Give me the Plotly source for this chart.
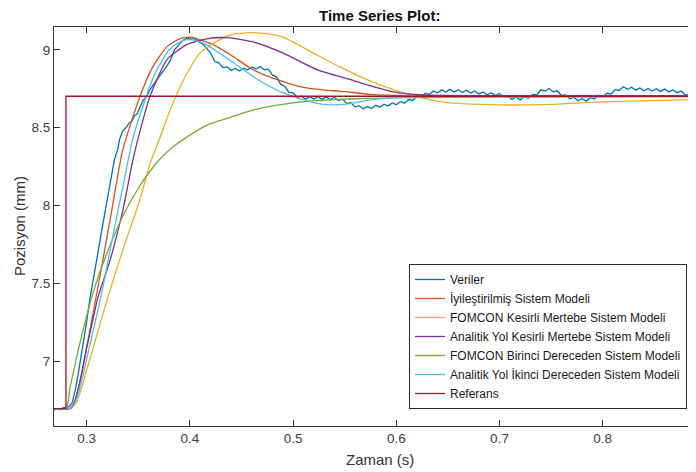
import plotly.graph_objects as go

# ---------------- data ----------------
veriler_t = [0.268, 0.271, 0.274, 0.277, 0.280, 0.283, 0.286, 0.289, 0.292, 0.296,
             0.300, 0.303, 0.308, 0.313, 0.318, 0.3226, 0.327, 0.330, 0.332, 0.335,
             0.338, 0.341, 0.344, 0.346, 0.349, 0.352, 0.355, 0.358, 0.361, 0.365,
             0.369, 0.373, 0.377, 0.381, 0.385, 0.389, 0.393, 0.397, 0.401, 0.405,
             0.409, 0.413, 0.417,
             0.420, 0.424, 0.428, 0.432, 0.436, 0.440, 0.444, 0.448, 0.452, 0.456,
             0.460, 0.464, 0.468, 0.472, 0.476, 0.480, 0.484, 0.488, 0.492, 0.496,
             0.500, 0.504, 0.508, 0.512, 0.516, 0.520, 0.524, 0.528, 0.532, 0.536,
             0.540, 0.544, 0.548, 0.552, 0.556, 0.560, 0.564, 0.568, 0.572, 0.576,
             0.580, 0.584, 0.588, 0.592, 0.596, 0.600, 0.604, 0.608, 0.612, 0.616,
             0.620, 0.624, 0.628, 0.632, 0.636, 0.640, 0.644, 0.648, 0.652, 0.656,
             0.660, 0.664, 0.668, 0.672, 0.676, 0.680, 0.684, 0.688, 0.692, 0.696,
             0.700, 0.704, 0.708, 0.712, 0.716, 0.720, 0.724, 0.728, 0.732, 0.736,
             0.740, 0.744, 0.748, 0.752, 0.756, 0.760, 0.764, 0.768, 0.772, 0.776,
             0.780, 0.784, 0.788, 0.792, 0.796, 0.800, 0.804, 0.808, 0.812, 0.816,
             0.820, 0.824, 0.828, 0.832, 0.836, 0.840, 0.844, 0.848, 0.852, 0.856,
             0.860, 0.864, 0.868, 0.872, 0.876, 0.880, 0.884, 0.888, 0.892]
veriler_v = [6.690, 6.700, 6.692, 6.705, 6.708, 6.712, 6.740, 6.820, 6.930, 7.090,
             7.260, 7.400, 7.600, 7.780, 7.970, 8.150, 8.300, 8.360, 8.430, 8.480,
             8.500, 8.530, 8.545, 8.575, 8.590, 8.640, 8.680, 8.700, 8.740, 8.780,
             8.815, 8.850, 8.890, 8.930, 9.000, 9.030, 9.060, 9.072, 9.068, 9.072,
             9.050, 9.035, 9.005,
             8.978, 8.926, 8.916, 8.886, 8.890, 8.867, 8.880, 8.864, 8.882, 8.870,
             8.890, 8.877, 8.893, 8.872, 8.876, 8.837, 8.825, 8.778, 8.766, 8.727,
             8.723, 8.694, 8.703, 8.685, 8.700, 8.684, 8.699, 8.682, 8.698, 8.681,
             8.696, 8.675, 8.683, 8.656, 8.660, 8.634, 8.642, 8.621, 8.636, 8.623,
             8.644, 8.632, 8.651, 8.639, 8.659, 8.648, 8.669, 8.658, 8.681, 8.675,
             8.703, 8.698, 8.722, 8.713, 8.735, 8.724, 8.743, 8.729, 8.746, 8.729,
             8.744, 8.726, 8.741, 8.723, 8.736, 8.717, 8.730, 8.711, 8.725, 8.706,
             8.720, 8.698, 8.704, 8.682, 8.696, 8.679, 8.699, 8.689, 8.714, 8.710,
             8.743, 8.736, 8.752, 8.730, 8.737, 8.707, 8.711, 8.686, 8.695, 8.673,
             8.686, 8.671, 8.693, 8.684, 8.708, 8.697, 8.721, 8.716, 8.744, 8.739,
             8.763, 8.747, 8.760, 8.741, 8.755, 8.737, 8.752, 8.735, 8.750, 8.733,
             8.748, 8.730, 8.744, 8.725, 8.736, 8.710, 8.712, 8.684, 8.693]

iyi_t = [0.268, 0.284, 0.288, 0.292, 0.296, 0.300, 0.305, 0.3148, 0.3245, 0.335,
         0.3516, 0.364, 0.3778, 0.390, 0.398, 0.403, 0.4224, 0.4418, 0.461, 0.484,
         0.5067, 0.533, 0.5454, 0.577, 0.610, 0.700, 0.800, 0.900]
iyi_v = [6.700, 6.700, 6.740, 6.830, 6.950, 7.090, 7.270, 7.620, 7.980, 8.360,
         8.700, 8.890, 9.020, 9.070, 9.080, 9.078, 9.033, 8.957, 8.873, 8.810,
         8.764, 8.740, 8.735, 8.712, 8.705, 8.705, 8.705, 8.705]

fomcon_k_t = [0.268, 0.285, 0.290, 0.295, 0.300, 0.305, 0.3206, 0.335, 0.3516, 0.3613,
              0.370, 0.3836, 0.3965, 0.4098, 0.429, 0.442, 0.461, 0.489, 0.522, 0.5454,
              0.571, 0.597, 0.620, 0.642, 0.691, 0.739, 0.804, 0.8904, 0.900]
fomcon_k_v = [6.700, 6.700, 6.740, 6.830, 6.950, 7.060, 7.416, 7.717, 8.040, 8.270,
              8.420, 8.660, 8.840, 8.980, 9.065, 9.100, 9.110, 9.085, 8.970, 8.890,
              8.810, 8.745, 8.700, 8.668, 8.648, 8.648, 8.668, 8.680, 8.680]

analitik_k_t = [0.268, 0.284, 0.288, 0.293, 0.299, 0.305, 0.311, 0.3226, 0.335, 0.345,
                0.3533, 0.3613, 0.3778, 0.397, 0.416, 0.436, 0.461, 0.490, 0.523, 0.555,
                0.571, 0.597, 0.626, 0.700, 0.900]
analitik_k_v = [6.700, 6.700, 6.740, 6.860, 7.060, 7.240, 7.416, 7.650, 7.970, 8.300,
                8.520, 8.700, 8.937, 9.033, 9.070, 9.078, 9.050, 8.980, 8.873, 8.810,
                8.777, 8.730, 8.710, 8.705, 8.705]

fomcon_b_t = [0.268, 0.280, 0.284, 0.288, 0.293, 0.299, 0.305, 0.313, 0.3245, 0.335,
              0.3516, 0.360, 0.371, 0.384, 0.397, 0.416, 0.430, 0.445, 0.460, 0.480,
              0.500, 0.520, 0.540, 0.570, 0.600, 0.700, 0.900]
fomcon_b_v = [6.700, 6.700, 6.840, 6.960, 7.110, 7.270, 7.416, 7.580, 7.775, 7.935,
              8.130, 8.210, 8.300, 8.380, 8.440, 8.515, 8.548, 8.580, 8.612, 8.640,
              8.660, 8.672, 8.680, 8.688, 8.692, 8.697, 8.700]

analitik_i_t = [0.268, 0.284, 0.288, 0.292, 0.296, 0.300, 0.306, 0.3158, 0.3245, 0.335,
                0.345, 0.3546, 0.3613, 0.368, 0.380, 0.390, 0.397, 0.405, 0.416, 0.442,
                0.468, 0.490, 0.5164, 0.532, 0.545, 0.555, 0.577, 0.600, 0.623, 0.700,
                0.900]
analitik_i_v = [6.700, 6.700, 6.730, 6.800, 6.900, 7.020, 7.190, 7.480, 7.780, 8.120,
                8.440, 8.640, 8.770, 8.873, 9.000, 9.050, 9.065, 9.060, 9.033, 8.918,
                8.800, 8.725, 8.668, 8.648, 8.648, 8.655, 8.680, 8.695, 8.700, 8.700,
                8.700]

referans_t = [0.268, 0.2799, 0.2799, 0.900]
referans_v = [6.700, 6.700, 8.702, 8.702]

x_ticks = [0.3, 0.4, 0.5, 0.6, 0.7, 0.8]
x_tick_labels = ["0.3", "0.4", "0.5", "0.6", "0.7", "0.8"]
y_ticks = [7, 7.5, 8, 8.5, 9]
y_tick_labels = ["7", "7.5", "8", "8.5", "9"]

series = [
    ("Veriler", veriler_t, veriler_v, "#0072BD"),
    ("İyileştirilmiş Sistem Modeli", iyi_t, iyi_v, "#D95319"),
    ("FOMCON Kesirli Mertebe Sistem Modeli", fomcon_k_t, fomcon_k_v, "#EDB120"),
    ("Analitik Yol Kesirli Mertebe Sistem Modeli", analitik_k_t, analitik_k_v, "#7E2F8E"),
    ("FOMCON Birinci Dereceden Sistem Modeli", fomcon_b_t, fomcon_b_v, "#77AC30"),
    ("Analitik Yol İkinci Dereceden Sistem Modeli", analitik_i_t, analitik_i_v, "#4DBEEE"),
    ("Referans", referans_t, referans_v, "#A2142F"),
]

# ---------------- figure ----------------
FONT = "Liberation Sans, Arial, Helvetica, sans-serif"
AX = "#333333"

fig = go.Figure()
for name, t, v, c in series:
    if name in ("Referans", "Veriler"):
        ln = dict(color=c, width=1.3)
    else:
        ln = dict(color=c, width=1.3, shape="spline", smoothing=0.6)
    fig.add_trace(go.Scatter(x=t, y=v, mode="lines", name=name, line=ln))

# the page body has an 8 px margin, so the figure is 8 px smaller and
# all page-pixel positions below are converted to figure pixels.
OFF = 8
W, H = 696 - OFF, 472 - OFF
L, R, T, B = 54 - OFF, 0, 27 - OFF, 472 - 426
pw, ph = W - L - R, H - T - B


def px_x(x):
    return (x - OFF - L) / pw


def px_y(y):
    return (H - B - (y - OFF)) / ph


fig.update_layout(
    width=W, height=H,
    margin=dict(l=L, r=R, t=T, b=B, pad=0),
    paper_bgcolor="white", plot_bgcolor="white",
    font=dict(family=FONT, color=AX, size=13.5),
    showlegend=True,
    legend=dict(x=px_x(687), y=px_y(409), xanchor="right", yanchor="bottom",
                bgcolor="white", bordercolor="#262626", borderwidth=1,
                font=dict(family=FONT, size=12, color="#1a1a1a"),
                tracegroupgap=0),
    xaxis=dict(range=[0.2683, 0.8904], tickvals=x_ticks, ticktext=x_tick_labels,
               ticks="inside", ticklen=6, tickcolor=AX, showline=True,
               linecolor=AX, linewidth=1, mirror="ticks", showgrid=False,
               zeroline=False, tickfont=dict(size=13.5, color="#404040")),
    yaxis=dict(range=[6.588, 9.146], tickvals=y_ticks, ticktext=y_tick_labels,
               ticks="inside", ticklen=6, tickcolor=AX, showline=True,
               linecolor=AX, linewidth=1, mirror=False, showgrid=False,
               zeroline=False, tickfont=dict(size=13.5, color="#404040")),
    annotations=[
        dict(text="<b>Time Series Plot:</b>", x=px_x(380), y=px_y(15),
             xref="paper", yref="paper", xanchor="center", yanchor="middle",
             showarrow=False, font=dict(family=FONT, size=15, color="#111111")),
        dict(text="Zaman (s)", x=px_x(380), y=px_y(460),
             xref="paper", yref="paper", xanchor="center", yanchor="middle",
             showarrow=False, font=dict(family=FONT, size=15, color="#333333")),
        dict(text="Pozisyon (mm)", x=px_x(19), y=px_y(226), textangle=-90,
             xref="paper", yref="paper", xanchor="center", yanchor="middle",
             showarrow=False, font=dict(family=FONT, size=15, color="#333333")),
    ],
)

fig.write_html("out.html")
